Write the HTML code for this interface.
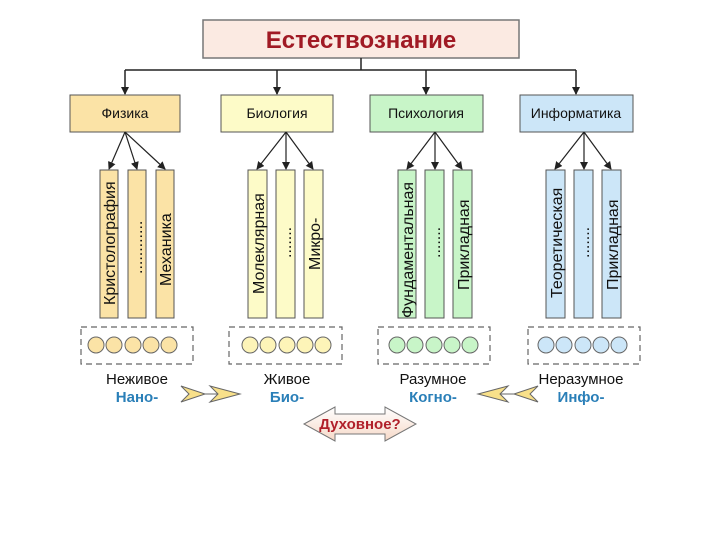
<!DOCTYPE html>
<html><head><meta charset="utf-8"><style>
body{margin:0;background:#fff;width:720px;height:540px;overflow:hidden}
svg text{font-family:"Liberation Sans","DejaVu Sans",sans-serif}
</style></head><body>
<svg width="720" height="540" viewBox="0 0 720 540">
<defs>
<marker id="a" markerWidth="8" markerHeight="8" refX="7" refY="4" orient="auto" markerUnits="userSpaceOnUse"><path d="M0,0 L8,4 L0,8 Z" fill="#222"/></marker>
<linearGradient id="g" x1="0" y1="0" x2="0" y2="1"><stop offset="0" stop-color="#fff"/><stop offset="1" stop-color="#f6d9c8"/></linearGradient>
</defs>
<rect x="203" y="20" width="316" height="38" fill="#fbeae2" stroke="#777" stroke-width="1.5"/>
<text x="361" y="48" text-anchor="middle" font-size="24" font-weight="bold" fill="#a01a24">Естествознание</text>
<g stroke="#222" stroke-width="1.5" fill="none">
<line x1="361" y1="58" x2="361" y2="70"/>
<line x1="125" y1="70" x2="576" y2="70"/>
<line x1="125" y1="70" x2="125" y2="94" marker-end="url(#a)"/>
<line x1="277" y1="70" x2="277" y2="94" marker-end="url(#a)"/>
<line x1="426" y1="70" x2="426" y2="94" marker-end="url(#a)"/>
<line x1="576" y1="70" x2="576" y2="94" marker-end="url(#a)"/>
</g>
<g stroke="#555" stroke-width="1">
<rect x="70" y="95" width="110" height="37" fill="#fbe3a6"/>
<rect x="221" y="95" width="112" height="37" fill="#fdfbc8"/>
<rect x="370" y="95" width="113" height="37" fill="#c8f5c8"/>
<rect x="520" y="95" width="113" height="37" fill="#cce6f8"/>
</g>
<g font-size="14" text-anchor="middle" fill="#111">
<text x="125" y="118">Физика</text><text x="277" y="118">Биология</text><text x="426" y="118">Психология</text><text x="576" y="118">Информатика</text>
</g>
<g stroke="#222" stroke-width="1.2" fill="none">
<line x1="125" y1="132" x2="109" y2="169" marker-end="url(#a)"/><line x1="125" y1="132" x2="137" y2="169" marker-end="url(#a)"/><line x1="125" y1="132" x2="165" y2="169" marker-end="url(#a)"/>
<line x1="286" y1="132" x2="257" y2="169" marker-end="url(#a)"/><line x1="286" y1="132" x2="286" y2="169" marker-end="url(#a)"/><line x1="286" y1="132" x2="313" y2="169" marker-end="url(#a)"/>
<line x1="435" y1="132" x2="407" y2="169" marker-end="url(#a)"/><line x1="435" y1="132" x2="435" y2="169" marker-end="url(#a)"/><line x1="435" y1="132" x2="462" y2="169" marker-end="url(#a)"/>
<line x1="584" y1="132" x2="555" y2="169" marker-end="url(#a)"/><line x1="584" y1="132" x2="584" y2="169" marker-end="url(#a)"/><line x1="584" y1="132" x2="611" y2="169" marker-end="url(#a)"/>
</g>
<g stroke="#555" stroke-width="1">
<g fill="#fbe3a6"><rect x="100" y="170" width="18" height="148"/><rect x="128" y="170" width="18" height="148"/><rect x="156" y="170" width="18" height="148"/></g>
<g fill="#fdfbc8"><rect x="248" y="170" width="19" height="148"/><rect x="276" y="170" width="19" height="148"/><rect x="304" y="170" width="19" height="148"/></g>
<g fill="#c8f5c8"><rect x="398" y="170" width="18" height="148"/><rect x="425" y="170" width="19" height="148"/><rect x="453" y="170" width="19" height="148"/></g>
<g fill="#cce6f8"><rect x="546" y="170" width="19" height="148"/><rect x="574" y="170" width="19" height="148"/><rect x="602" y="170" width="19" height="148"/></g>
</g>
<g font-size="16" fill="#111">
<text transform="translate(115,305) rotate(-90)">Кристолография</text>
<text transform="translate(142,274) rotate(-90)">............</text>
<text transform="translate(171,286) rotate(-90)">Механика</text>
<text transform="translate(264,294) rotate(-90)">Молеклярная</text>
<text transform="translate(291,258) rotate(-90)">.......</text>
<text transform="translate(320,270) rotate(-90)">Микро-</text>
<text transform="translate(413,318) rotate(-90)">Фундаментальная</text>
<text transform="translate(440,258) rotate(-90)">.......</text>
<text transform="translate(469,290) rotate(-90)">Прикладная</text>
<text transform="translate(562,298) rotate(-90)">Теоретическая</text>
<text transform="translate(589,258) rotate(-90)">.......</text>
<text transform="translate(618,290) rotate(-90)">Прикладная</text>
</g>
<g fill="none" stroke="#666" stroke-width="1.2" stroke-dasharray="6,4">
<rect x="81" y="327" width="112" height="37"/><rect x="229" y="327" width="113" height="37"/><rect x="378" y="327" width="112" height="37"/><rect x="528" y="327" width="112" height="37"/>
</g>
<g stroke="#666" stroke-width="1">
<g fill="#fbe3a6"><circle cx="96" cy="345" r="8"/><circle cx="114" cy="345" r="8"/><circle cx="133" cy="345" r="8"/><circle cx="151" cy="345" r="8"/><circle cx="169" cy="345" r="8"/></g>
<g fill="#fdf4b8"><circle cx="250" cy="345" r="8"/><circle cx="268" cy="345" r="8"/><circle cx="287" cy="345" r="8"/><circle cx="305" cy="345" r="8"/><circle cx="323" cy="345" r="8"/></g>
<g fill="#c8f5c8"><circle cx="397" cy="345" r="8"/><circle cx="415" cy="345" r="8"/><circle cx="434" cy="345" r="8"/><circle cx="452" cy="345" r="8"/><circle cx="470" cy="345" r="8"/></g>
<g fill="#cce6f8"><circle cx="546" cy="345" r="8"/><circle cx="564" cy="345" r="8"/><circle cx="583" cy="345" r="8"/><circle cx="601" cy="345" r="8"/><circle cx="619" cy="345" r="8"/></g>
</g>
<g font-size="15" text-anchor="middle">
<text x="137" y="384" fill="#111">Неживое</text><text x="287" y="384" fill="#111">Живое</text><text x="433" y="384" fill="#111">Разумное</text><text x="581" y="384" fill="#111">Неразумное</text>
<g font-weight="bold" fill="#2a7fb8"><text x="137" y="402">Нано-</text><text x="287" y="402">Био-</text><text x="433" y="402">Когно-</text><text x="581" y="402">Инфо-</text></g>
</g>
<g stroke="#666" stroke-width="1" fill="#f8e08a">
<line x1="195" y1="394" x2="230" y2="394"/>
<path d="M181,386 L205,394 L181,402 L189,394 Z"/><path d="M210,386 L240,394 L210,402 L218,394 Z"/>
<line x1="490" y1="394" x2="525" y2="394"/>
<path d="M538,386 L514,394 L538,402 L530,394 Z"/><path d="M508,386 L478,394 L508,402 L500,394 Z"/>
</g>
<path d="M304,424 L335,407 L335,414 L385,414 L385,407 L416,424 L385,441 L385,434 L335,434 L335,441 Z" fill="url(#g)" stroke="#777" stroke-width="1"/>
<text x="360" y="429" text-anchor="middle" font-size="15" font-weight="bold" fill="#b0202a">Духовное?</text>
</svg>
</body></html>
